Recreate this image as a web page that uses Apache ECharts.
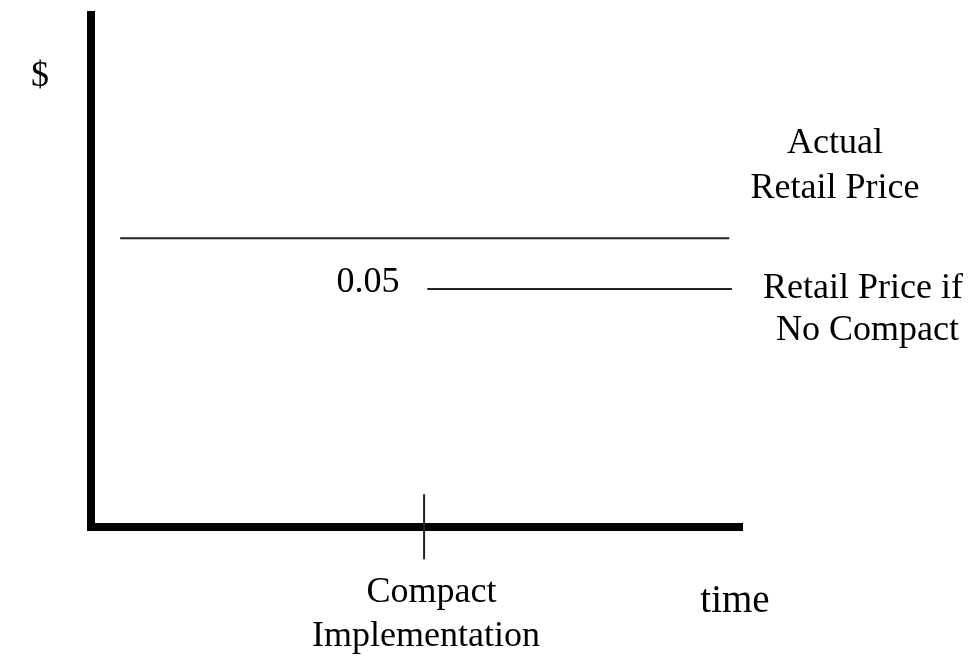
<!DOCTYPE html>
<html>
<head>
<meta charset="utf-8">
<script src="https://cdn.jsdelivr.net/npm/echarts@6/dist/echarts.min.js"></script>
<style>html,body{margin:0;padding:0;background:#fff}#c{width:974px;height:656px}</style>
</head>
<body>
<div id="c"></div>
<script>
// Data (domain units: time 0..100, price 0..100)
const actualPrice = [[4.5, 56.4], [98.5, 56.4]];
const noCompactPrice = [[51.9, 46.5], [98.9, 46.5]];
const compactTime = 51.4;
const compactTick = [[compactTime, 6.4], [compactTime, -6.3]];
const gapLabel = '0.05';

const serif = 'Liberation Serif, Times New Roman, serif';
const chart = echarts.init(document.getElementById('c'));
const txt = (t, x, y, size) => ({
  type: 'text', x: x, y: y,
  style: { text: t, font: size + 'px ' + serif, fill: '#000', align: 'center', verticalAlign: 'middle' }
});
chart.setOption({
  animation: false,
  grid: { left: 91, top: 15, width: 648, height: 512 },
  xAxis: {
    type: 'value', min: 0, max: 100,
    axisLine: { show: true, lineStyle: { color: '#000', width: 8, cap: 'square' } },
    axisTick: { show: false }, axisLabel: { show: false }, splitLine: { show: false }
  },
  yAxis: {
    type: 'value', min: 0, max: 100,
    axisLine: { show: true, lineStyle: { color: '#000', width: 8, cap: 'square' } },
    axisTick: { show: false }, axisLabel: { show: false }, splitLine: { show: false }
  },
  series: [
    { type: 'line', data: actualPrice, symbol: 'none', lineStyle: { color: '#222', width: 2 } },
    { type: 'line', data: noCompactPrice, symbol: 'none', lineStyle: { color: '#222', width: 2 } },
    { type: 'line', data: compactTick, symbol: 'none', clip: false, lineStyle: { color: '#222', width: 2 } }
  ],
  graphic: [
    txt('$', 40, 77, 36),
    txt('Actual', 835, 144, 36),
    txt('Retail Price', 835, 188.5, 36),
    txt(gapLabel, 368, 283, 36),
    txt('Retail Price if', 863, 288.5, 36),
    txt('No Compact', 867.5, 331, 36),
    txt('Compact', 431.5, 592.5, 36),
    txt('Implementation', 426, 637, 36),
    txt('time', 735, 602, 39)
  ]
});
</script>
</body>
</html>
